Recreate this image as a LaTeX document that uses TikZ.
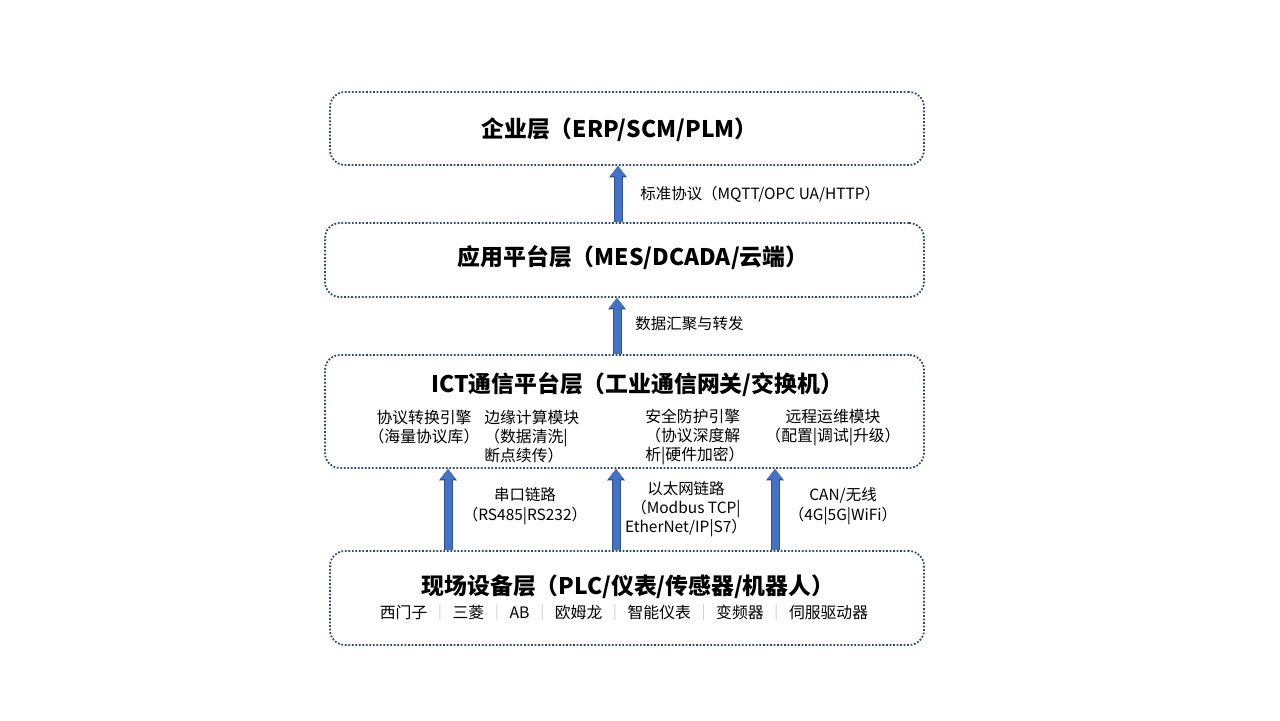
\documentclass[tikz,border=0pt]{standalone}
\usepackage{fontspec}
\setmainfont{Noto Sans CJK SC}
\usetikzlibrary{arrows.meta}
\definecolor{layerline}{HTML}{2F4B6E}
\definecolor{flowblue}{HTML}{4472C4}
\definecolor{flowdark}{HTML}{2F528F}
\definecolor{sepgray}{HTML}{BFBFBF}
\newcommand{\brandsep}{\hspace{0.3em}{\color{sepgray}｜}\hspace{0.3em}}
\tikzstyle{layer} = [rectangle, draw=layerline, line width=1pt, dash pattern=on 1pt off 1pt, rounded corners=0.3cm]
\tikzstyle{title} = [font=\fontsize{13}{15}\selectfont\bfseries, inner sep=0pt]
\tikzstyle{part} = [font=\fontsize{9}{10.8}\selectfont, inner sep=0pt]
\tikzstyle{link} = [font=\fontsize{8.8}{11}\selectfont, inner sep=0pt]
\tikzstyle{flow} = [preaction={draw=flowdark, line width=0.18cm, -{Triangle[width=0.34cm, length=0.23cm]}},
                    draw=flowblue, line width=0.14cm, -{Triangle[width=0.29cm, length=0.2cm]}]

\begin{document}
\begin{tikzpicture}
        \fill[white] (0,0) rectangle (25.6,-14.4);
        \useasboundingbox (0,0) rectangle (25.6,-14.4);
        % layers
        \node [layer, minimum width=11.88cm, minimum height=1.46cm] at (12.54,-2.57) (erp) {};
        \node [layer, minimum width=11.98cm, minimum height=1.48cm] at (12.49,-5.2) (app) {};
        \node [layer, minimum width=11.98cm, minimum height=2.26cm] at (12.49,-8.23) (ict) {};
        \node [layer, minimum width=11.88cm, minimum height=1.88cm] at (12.54,-11.96) (field) {};
        
        \node [title] at (12.39,-2.6) (erptitle) {企业层（ERP/SCM/PLM）};
        \node [title] at (12.66,-5.16) (apptitle) {应用平台层（MES/DCADA/云端）};
        \node [title] at (12.74,-7.7) (icttitle) {ICT通信平台层（工业通信网关/交换机）};
        \node [title] at (12.56,-11.74) (fieldtitle) {现场设备层（PLC/仪表/传感器/机器人）};
        \node [part] at (12.48,-12.24) (brands)
        {西门子\brandsep 三菱\brandsep AB\brandsep 欧姆龙\brandsep 智能仪表\brandsep 变频器\brandsep 伺服驱动器};
        
        % ict modules
        \node [part, align=center] at (8.48,-8.55) (convert) {协议转换引擎\\（海量协议库）};
        \node [part, align=left, anchor=west] at (9.68,-8.74) (edge) {边缘计算模块\\（数据清洗|\\断点续传）};
        \node [part, align=left, anchor=west] at (12.9,-8.74) (secure) {安全防护引擎\\（协议深度解\\析|硬件加密）};
        \node [part, align=center] at (16.66,-8.55) (remote) {远程运维模块\\（配置|调试|升级）};
        
        % arrows
        \coordinate (a1) at (12.36,0);
        \coordinate (a2) at (12.34,0);
        \coordinate (b1) at (8.96,0);
        \coordinate (b2) at (12.32,0);
        \coordinate (b3) at (15.5,0);
        \path [flow] (app.north -| a1) -- (erp.south -| a1);
        \path [flow] (ict.north -| a2) -- (app.south -| a2);
        \path [flow] (field.north -| b1) -- (ict.south -| b1);
        \path [flow] (field.north -| b2) -- (ict.south -| b2);
        \path [flow] (field.north -| b3) -- (ict.south -| b3);
        
        \node [link, anchor=west] at (12.8,-3.88) (std) {标准协议（MQTT/OPC UA/HTTP）};
        \node [link, anchor=west] at (12.7,-6.48) (agg) {数据汇聚与转发};
        \node [link, align=center] at (10.5,-10.12) (serial) {串口链路\\（RS485|RS232）};
        \node [link, align=center] at (13.72,-10.18) (eth) {以太网链路\\（Modbus TCP|\\EtherNet/IP|S7）};
        \node [link, align=center] at (16.86,-10.12) (can) {CAN/无线\\（4G|5G|WiFi）};
    \end{tikzpicture}
\end{document}
